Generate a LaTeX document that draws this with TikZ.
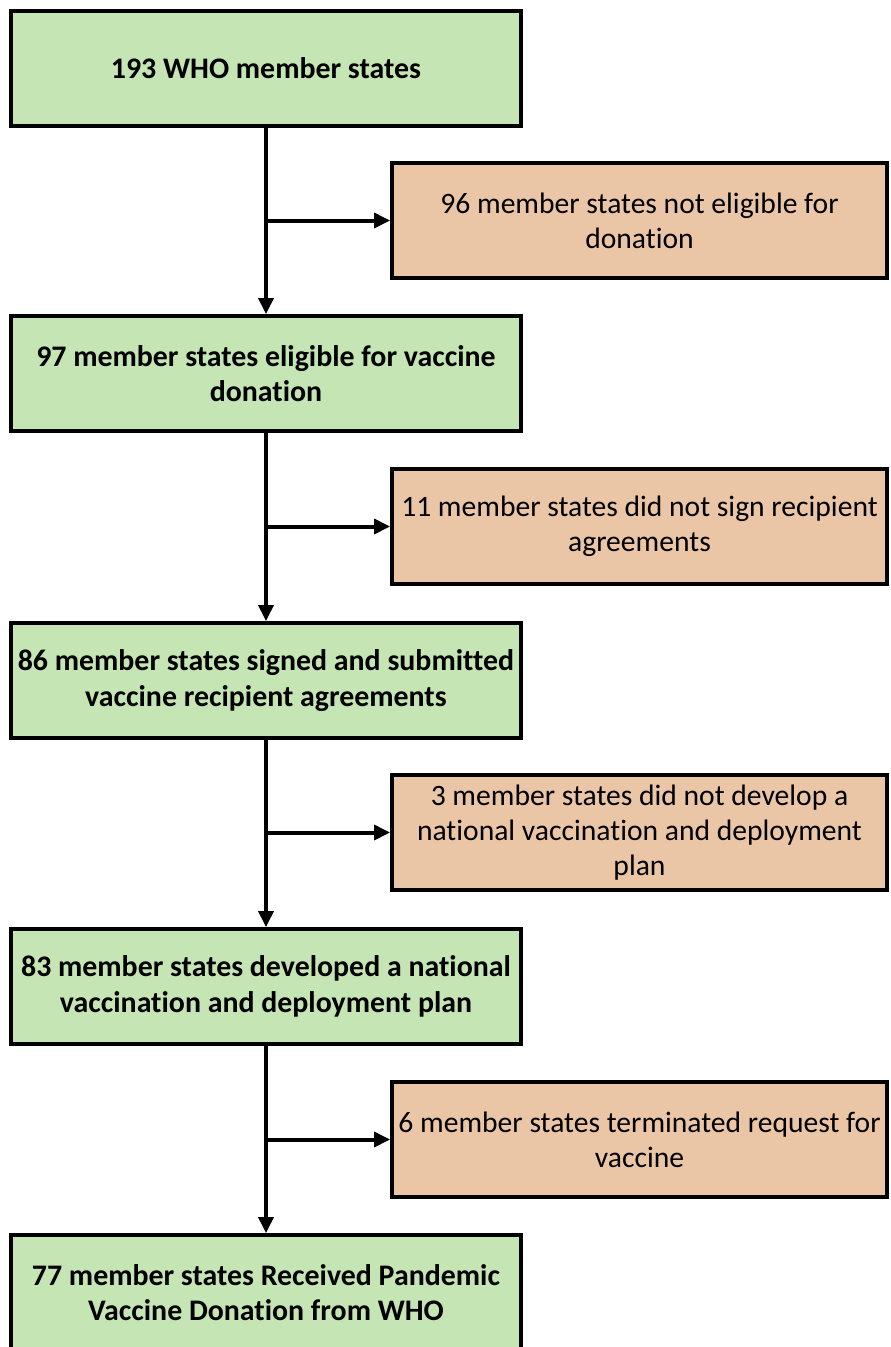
\documentclass[tikz,border=0pt]{standalone}
\usepackage{fontspec}
\setmainfont[Ligatures=NoCommon]{Carlito}
\usetikzlibrary{arrows.meta}
\definecolor{passgreen}{HTML}{C5E5B4}
\definecolor{dropout}{HTML}{EAC6A7}
\tikzset{
  keep/.style={draw=black, line width=3pt, fill=passgreen, minimum width=382pt, minimum height=86pt,
    align=center, font=\fontsize{22.4}{26.5}\selectfont\bfseries, inner sep=0pt},
  lost/.style={draw=black, line width=3pt, fill=dropout, minimum width=371pt, minimum height=86pt,
    align=center, font=\fontsize{22.2}{26.5}\selectfont, inner sep=0pt},
  flow/.style={line width=3pt, -{Triangle[length=12pt, width=11pt]}}
}
\begin{document}
\begin{tikzpicture}[x=0.75pt, y=-0.75pt]
%Khung hình
\useasboundingbox (0,0) rectangle (890,1347);
%Các bước chính
\node[keep] (g1) at (266,68.5) {193 WHO member states};
\node[keep] (g2) at (266,373.5) {97 member states eligible for vaccine\\donation};
\node[keep] (g3) at (266,680.5) {86 member states signed and submitted\\vaccine recipient agreements};
\node[keep] (g4) at (266,986.5) {83 member states developed a national\\vaccination and deployment plan};
\node[keep] (g5) at (266,1292.5) {77 member states Received Pandemic\\Vaccine Donation from WHO};
%Các nước bị loại
\node[lost] (o1) at (639.5,220.5) {96 member states not eligible for\\donation};
\node[lost] (o2) at (639.5,526.5) {11 member states did not sign recipient\\agreements};
\node[lost] (o3) at (639.5,832.5) {3 member states did not develop a\\national vaccination and deployment\\plan};
\node[lost] (o4) at (639.5,1139.5) {6 member states terminated request for\\vaccine};
%Mũi tên
\foreach \i/\j in {1/2,2/3,3/4,4/5}{
  \draw[flow] (g\i.south) -- (g\j.north);
  \draw[flow] (g\i.south |- o\i.west) -- (o\i.west);
}
\end{tikzpicture}
\end{document}
